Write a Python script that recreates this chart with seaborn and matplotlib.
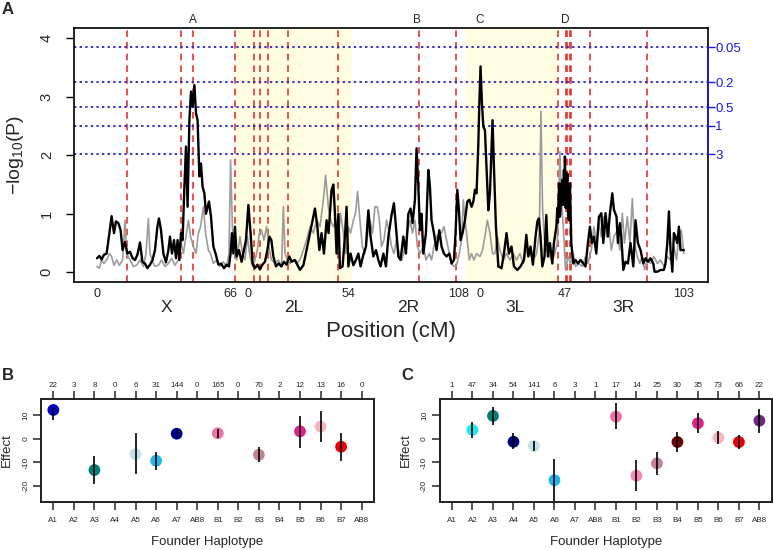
import matplotlib
matplotlib.use("Agg")
import matplotlib.pyplot as plt
import matplotlib.transforms as mtransforms
import numpy as np
import pandas as pd
import seaborn as sns

sns.set_style("ticks")
plt.rcParams['font.family'] = ['Liberation Sans', 'DejaVu Sans']
plt.rcParams['mathtext.fontset'] = 'custom'
plt.rcParams['mathtext.rm'] = 'Liberation Sans'
plt.rcParams['mathtext.it'] = 'Liberation Sans:italic'

# ---- panel A data (cumulative map position, -log10 P) ----
black_trace = [
    (0, .24), (1.2, .28), (2.3, .22), (3.5, .30), (4.8, .32), (6.2, .67), (7.3, .96), (8.5, .67),
    (9.5, .87), (10.7, .84), (11.8, .72), (12.8, .38), (14, .52), (15.2, .32), (16.5, .35),
    (17.8, .24), (19, .21), (20.2, .30), (21.5, .51), (22.7, .18), (24, .15), (25.2, .07),
    (26.5, .13), (27.8, .21), (29, .38), (30.2, .78), (31, .92), (32, .72), (33.2, .32),
    (34.5, .17), (35.7, .38), (36.5, .61), (37.5, .32), (38.5, .55), (39.5, .24), (40.3, .55),
    (41.2, .21), (42, .67), (42.8, .55), (43.7, 1.46), (44.5, 2.15), (45.3, 1.12), (46.2, 2.6),
    (47, 3.09), (47.8, 2.83), (48.7, 3.2), (49.5, 2.72), (50.3, 2.6), (51.2, 1.64), (52, 1.86),
    (52.8, 1.46), (53.7, 1.35), (54.5, 1.0), (56, 1.21), (57, .95), (58.2, .44), (59.3, .32),
    (60.7, .13), (62, .15), (63.5, .07), (64.8, .13), (66, .10), (66.8, .32), (67.5, .67),
    (68.2, .32), (69, .78), (69.8, .27), (71, .38), (72.3, .18), (73.5, .38), (74.5, .55),
    (75.7, 1.15), (76.8, .67), (77.8, .15), (79, .07), (80.2, .13), (81.5, .05), (82.7, .13),
    (84, .18), (85.2, .38), (86.2, .61), (87.2, .55), (88.2, .27), (89.5, .10), (90.8, .15),
    (92.2, .10), (93.5, .18), (94.8, .13), (96.2, .27), (97.3, .18), (99, .21), (100.2, .13),
    (101.5, .04), (103.2, .12), (104.8, .38), (106.5, .67), (109, 1.09), (110.2, .78),
    (111.2, .38), (112.3, .67), (113.5, .32), (114.8, .89), (115.8, .67), (117.3, 1.41),
    (118.2, 1.5), (119, 1.0), (119.8, .32), (120.7, 1.0), (121.5, .07), (122.8, .10),
    (124, .61), (124.8, 1.12), (125.7, .10), (126.8, .32), (128.2, .12), (129.5, .21),
    (130.7, .32), (131.8, .10), (133.2, .30), (134.5, .44), (135.7, 1.06), (136.8, .61),
    (138.2, .27), (139.5, .38), (140.7, .21), (141.8, .10), (143.2, .32), (144.5, .10),
    (145.7, .61), (147.3, .98), (148.5, 1.18), (149.5, .78), (150.7, .27), (151.8, .21),
    (153.2, .61), (154.5, .32), (155.7, 1.0), (156.8, 1.09), (157.8, .84), (159, 1.24),
    (159.8, 2.12), (160.7, 1.46), (161.5, .72), (162.3, 1.0), (163.2, .32), (164.5, .67),
    (165.7, 1.75), (166.5, 1.46), (167.3, .89), (168.5, .67), (169.8, .38), (171.2, .72),
    (172.3, .44), (173.5, .32), (174.8, .27), (176.2, .32), (177.3, .15), (178.5, .21),
    (179.3, .67), (180.2, 1.41), (181, 1.06), (181.8, .55), (182.8, .67), (184, .89),
    (185.2, 1.21), (186.2, 1.24), (187.3, 1.12), (188.2, 1.21), (189, 1.41), (189.8, 1.35),
    (190.7, 2.2), (191.2, 2.89), (191.8, 3.52), (192.5, 2.89), (193.2, 2.49), (194, 2.43),
    (194.8, 1.8), (195.7, 1.06), (196.5, 1.35), (197.3, 2.15), (197.8, 2.6), (198.5, 1.8),
    (199.5, .78), (200.7, .10), (202.3, .07), (203.5, .32), (204.8, .67), (206, .32),
    (207.3, .44), (208.5, .10), (210.2, .04), (211.8, .10), (213.5, .21), (214.7, .64),
    (215.7, .27), (216.8, .44), (218, .13), (219.3, .61), (220.2, .87), (221, .92),
    (221.8, .61), (222.7, .10), (223.8, .27), (224.7, .98), (225.5, .27), (226.5, .50),
    (227.7, .15), (228.5, .50), (229.7, .78), (230.2, 1.1), (230.5, .85), (230.9, 1.35),
    (231.2, 1.52), (231.5, .95), (231.8, 1.07), (232.2, 1.45), (232.7, 1.58), (233.1, 1.15),
    (233.5, 1.75), (233.8, 1.4), (234, 1.98), (234.4, 1.1), (234.7, 1.29), (235.2, 1.69),
    (235.6, 1.0), (236, .89), (236.5, 1.52), (237.2, .50), (238.2, .15), (239.3, .21),
    (240.5, .15), (241.8, .21), (243.2, .15), (244.3, .10), (245.5, .50), (246.5, .78),
    (247.5, .50), (248.5, .61), (249.7, .32), (251, .95), (252.2, 1.01), (253.2, .50),
    (254.3, 1.01), (255.5, .61), (256.5, 1.01), (257.7, 1.35), (258.5, 1.07), (259.8, .95),
    (260.5, .50), (261.5, .84), (262.2, .61), (263.2, .04), (264.3, .18), (265.5, .15),
    (266.8, .50), (268.2, .10), (269.3, .89), (270.5, .50), (271.8, .38), (273.2, .15),
    (274.3, .24), (275.5, .18), (276.8, .24), (278.2, .15), (278.8, .01), (280.2, .01),
    (281.8, .04), (283.5, .04), (284.3, .15), (285.2, .50), (286, 1.04), (286.8, .38),
    (287.7, .01), (288.5, .67), (289.3, .61), (290.2, .50), (291, .78), (291.8, .38),
    (292.7, .38), (293.5, .38),
]

gray_trace = [
    (0, .10), (1.2, .07), (2.3, .21), (3.5, .15), (4.8, .21), (6.2, .32), (7.3, .27), (8.5, .12),
    (9.8, .21), (11.2, .12), (12.8, .21), (14, .89), (14.8, .32), (16.5, .21), (18.2, .10),
    (19.8, .12), (21.5, .21), (23.2, .10), (24.5, .32), (25.7, .92), (26.5, .32), (27.8, .18),
    (29, .10), (30.7, .12), (32.3, .21), (34, .10), (35.7, .15), (37.3, .24), (39, .12),
    (40.7, .21), (41.8, .55), (43.2, .32), (44.5, .61), (45.7, .89), (46.8, .61), (48.2, .44),
    (49.5, .32), (50.7, .67), (51.8, .78), (53.2, 1.12), (54.3, .67), (55.7, .38), (56.8, .32),
    (58.2, .15), (59.8, .21), (61.5, .10), (63.2, .18), (64.8, .10), (66, .32), (66.8, 1.92),
    (67.7, .78), (68.5, .32), (69.8, .21), (71.5, .61), (72.8, .32), (74, .21), (75.2, .61),
    (76.5, .27), (77.8, .10), (79, .21), (80.2, .38), (81.2, .67), (82.3, .72), (83.5, .55),
    (84.8, .78), (86.2, .38), (87.3, .21), (89, .15), (90.7, .21), (92.3, .10), (93.2, 1.12),
    (94, .32), (95.2, .21), (96.5, .15), (98.2, .21), (99.8, .15), (101.5, .21), (103.2, .38),
    (104.8, .55), (106.5, .78), (108.2, .67), (109.8, .89), (111.5, .78), (113.2, 1.24),
    (114.3, 1.66), (115.7, 1.12), (116.8, .89), (118.2, .78), (119.5, .89), (120.7, .61),
    (121.8, 1.01), (123.2, .67), (124.5, .32), (125.7, .78), (126.8, .67), (128.2, .89),
    (129.3, 1.01), (130.3, 1.38), (131.5, .89), (132.7, .44), (134, .32), (135.2, .61),
    (136.5, .89), (137.8, .67), (139, 1.12), (140.2, 1.12), (141.2, .89), (142.3, .44),
    (143.5, .55), (144.8, .89), (146.2, .67), (147.3, .44), (148.5, .32), (149.8, .55),
    (151.2, .32), (152.5, .21), (154, .44), (155.2, .67), (156.5, .89), (157.8, .67),
    (159, .89), (160.2, .44), (161.5, .32), (163.2, .44), (164.5, .21), (166.2, .32),
    (167.3, .21), (168.5, .44), (169.8, .61), (171.2, .67), (172.3, .67), (173.5, .78),
    (174.8, .55), (176.2, .32), (177.3, .15), (178.5, .10), (179.8, .12), (181.2, .32),
    (182.3, .55), (183.2, 1.24), (184, .89), (184.8, .67), (186.2, .21), (187.3, .32),
    (188.5, .21), (189.8, .32), (191.5, .27), (192.8, .38), (194, .61), (195.2, .89),
    (196.5, .67), (197.8, .32), (199, .32), (200.2, .61), (201.5, .38), (203.2, .21),
    (204.8, .32), (206.5, .21), (208.2, .32), (209.8, .21), (211.5, .32), (213.2, .15),
    (214.8, .38), (216.5, .32), (218.2, .21), (219.8, .32), (221.2, .67), (222, 2.75),
    (222.8, 1.12), (224, .44), (225.7, .32), (227.2, .21), (228.5, .27), (230.2, .50),
    (231.5, 2.06), (232.3, 1.18), (233.2, .78), (234.3, .04), (235.5, .27), (236.8, .15),
    (238.2, .32), (239.3, .10), (241, .15), (242.7, .10), (244.3, .27), (245.5, .15),
    (247.2, .38), (248.5, .78), (249.8, .50), (251, .84), (252.2, .61), (253.5, .95),
    (254.8, .61), (256, .78), (257.2, .38), (258.5, .61), (260.2, .72), (261.5, .38),
    (262.7, 1.01), (263.8, .50), (265.2, .95), (266.5, .50), (267.7, 1.26), (268.8, .50),
    (270.2, .27), (271.5, .15), (272.7, .27), (273.8, .04), (275.2, .21), (276.8, .15),
    (278.5, .27), (280.2, .15), (281.8, .21), (283.5, .10), (285.2, .27), (286.8, .21),
    (288.5, .44), (289.8, .21), (291, .61), (292.2, .72), (293.5, .32),
]

tick_pos = [0, 66.5, 75.5, 125.7, 180.7, 191.5, 233.7, 293.2]
tick_lab = ['0', '66', '0', '54', '108', '0', '47', '103']
arm_pos = [34.8, 98.2, 155.7, 209, 263.2]
arm_lab = ['X', '2L', '2R', '3L', '3R']
shaded_arms = [(69.2, 127.7), (184.7, 229.8)]
marker_lines = [14.85, 42, 48, 69.2, 78.5, 81.7, 85.7, 95.5, 120.4, 161, 179.4,
                230.6, 234.3, 235.2, 236.3, 237.2, 246.5, 274.9]
qtl_pos = [48.2, 159.8, 191.5, 234]
qtl_lab = ['A', 'B', 'C', 'D']
thr_y = [3.846, 3.248, 2.82, 2.506, 2.017]
thr_lab = ['0.05', '0.2', '0.5', '1', '3']

# ---- panels B and C data ----
haplotypes = ['A1', 'A2', 'A3', 'A4', 'A5', 'A6', 'A7', 'AB8',
              'B1', 'B2', 'B3', 'B4', 'B5', 'B6', 'B7', 'AB8 ']
hap_colors = ['#0000CD', '#22E6F0', '#007F73', '#000080', '#C3E0E6', '#1FB6EA', '#00008B', '#6B2A7A',
              '#F070A8', '#F28BAE', '#C08590', '#6E0000', '#E0208C', '#F5B5C0', '#EE0000', '#6B2A7A']
nB = [22, 3, 8, 0, 6, 31, 144, 0, 165, 0, 70, 2, 12, 13, 16, 0]
effB = [12.1, np.nan, -13.2, np.nan, -6.5, -9.3, 2.1, np.nan, 2.3, np.nan, -6.8, np.nan, 3.1, 5.1, -3.4, np.nan]
loB = [7.8, np.nan, -19.2, np.nan, -14.9, -13.0, 0.6, np.nan, 0.4, np.nan, -9.7, np.nan, -3.8, -1.5, -9.3, np.nan]
hiB = [13.5, np.nan, -7.3, np.nan, 2.5, -5.5, 3.7, np.nan, 3.9, np.nan, -3.7, np.nan, 9.7, 11.7, 2.5, np.nan]
nC = [1, 47, 34, 54, 141, 6, 3, 1, 17, 14, 25, 30, 35, 73, 66, 22]
effC = [np.nan, 3.7, 9.6, -1.3, -3.1, -17.5, np.nan, np.nan, 9.3, -15.6, -10.4, -1.4, 6.5, 0.4, -1.4, 7.6]
loC = [np.nan, 0.1, 5.8, -4.5, -5.1, -27.5, np.nan, np.nan, 3.9, -22.0, -15.1, -5.5, 2.5, -2.4, -4.2, 2.5]
hiC = [np.nan, 7.2, 13.5, 2.3, -1.0, -8.7, np.nan, np.nan, 14.9, -9.0, -5.6, 3.0, 10.7, 3.2, 1.4, 12.7]

W, H = 774, 550
fig = plt.figure(figsize=(W / 100, H / 100), dpi=100)


def box(l, t, r, b):
    return [l / W, 1 - b / H, (r - l) / W, (b - t) / H]


# ================= Panel A =================
axA = fig.add_axes(box(74, 28, 707.7, 282))
for a, b in shaded_arms:
    axA.axvspan(a, b, color='#FFFDE2', lw=0, zorder=0)
for x in marker_lines:
    axA.axvline(x, color='#E8332E', ls=(0, (4, 3)), lw=1.2, zorder=1)
for y in thr_y:
    axA.axhline(y, color='#2525C8', ls=(0, (1.3, 1.8)), lw=1.3, zorder=1)

gray_df = pd.DataFrame(gray_trace, columns=['pos', 'logp'])
black_df = pd.DataFrame(black_trace, columns=['pos', 'logp'])
sns.lineplot(data=gray_df, x='pos', y='logp', sort=False, estimator=None,
             color='#9C9C9C', lw=1.2, ax=axA, zorder=2)
sns.lineplot(data=black_df, x='pos', y='logp', sort=False, estimator=None,
             color='black', lw=1.7, ax=axA, zorder=3)

axA.set_xlim(-11.5, 305.4)
axA.set_ylim(-0.166, 4.176)
axA.set_xlabel('')
axA.set_ylabel('')
axA.set_yticks([0, 1, 2, 3, 4])
axA.set_yticklabels(['0', '1', '2', '3', '4'], rotation=90, va='center', fontsize=10.5)
axA.tick_params(axis='y', length=5.5, width=1, pad=9, color='black')
axA.set_xticks(tick_pos)
axA.set_xticklabels(tick_lab, fontsize=9)
axA.tick_params(axis='x', length=0, pad=4)
for s in axA.spines.values():
    s.set_visible(True)
    s.set_linewidth(1.2)
    s.set_color('black')

trA = mtransforms.blended_transform_factory(axA.transData, axA.transAxes)
for x, lab in zip(arm_pos, arm_lab):
    axA.text(x, -0.1, lab, transform=trA, ha='center', va='center', fontsize=12.5)
for x, lab in zip(qtl_pos, qtl_lab):
    axA.text(x, 1.03, lab, transform=trA, ha='center', va='center', fontsize=8.5)

axR = axA.twinx()
axR.set_ylim(axA.get_ylim())
axR.set_yticks(thr_y)
axR.set_yticklabels(thr_lab, fontsize=9.5, color='#1A1AE0')
axR.tick_params(axis='y', length=5, width=1, color='#1A1AE0', pad=0.5)
for side in ['left', 'top', 'bottom']:
    axR.spines[side].set_visible(False)
axR.spines['right'].set_bounds(thr_y[-1], thr_y[0])
axR.spines['right'].set_color('#1A1AE0')
axR.spines['right'].set_linewidth(1.2)

fig.text(16 / W, 1 - 155 / H, r'$-\mathrm{log}_{10}\mathrm{(P)}$', rotation=90,
         ha='center', va='center', fontsize=14)
fig.text(391 / W, 1 - 331 / H, 'Position (cM)', ha='center', va='center', fontsize=16)
fig.text(7.5 / W, 1 - 10 / H, 'A', ha='center', va='center', fontsize=12, fontweight='bold')


# ================= Panels B and C =================
def effect_panel(rect, counts, eff, lo, hi, letter, letter_xy, ylabel_x, xlabel_x):
    ax = fig.add_axes(rect)
    xpos = np.arange(1, len(haplotypes) + 1)
    df = pd.DataFrame({'x': xpos, 'effect': eff, 'hap': haplotypes})
    df = df.dropna()
    pal = dict(zip(haplotypes, hap_colors))
    sns.scatterplot(data=df, x='x', y='effect', hue='hap', palette=pal, s=72,
                    edgecolor='none', legend=False, ax=ax, zorder=2)
    ax.vlines(xpos, lo, hi, color='black', lw=1.2, zorder=3)
    ax.set_xlim(0.4, 16.6)
    ax.set_ylim(-26.8, 16.6)
    ax.set_xlabel('')
    ax.set_ylabel('')
    ax.set_xticks(xpos)
    ax.set_xticklabels([h.strip() for h in haplotypes], fontsize=5.8)
    ax.set_yticks([-20, -10, 0, 10])
    ax.set_yticklabels(['-20', '-10', '0', '10'], rotation=90, va='center', fontsize=6)
    ax.tick_params(axis='x', length=5.5, width=1.1, pad=5)
    ax.tick_params(axis='y', length=5.5, width=1.1, pad=3)
    for s in ax.spines.values():
        s.set_visible(True)
        s.set_linewidth(1.2)
        s.set_color('black')
    top = ax.twiny()
    top.set_xlim(ax.get_xlim())
    top.set_xticks(xpos)
    top.set_xticklabels([str(c) for c in counts], fontsize=5.8)
    top.tick_params(axis='x', length=5.5, width=1.1, pad=2)
    for s in top.spines.values():
        s.set_linewidth(1.2)
    fig.text(ylabel_x / W, 1 - 450 / H, 'Effect', rotation=90, ha='center', va='center', fontsize=9.5)
    fig.text(xlabel_x / W, 1 - 541.7 / H, 'Founder Haplotype', ha='center', va='center', fontsize=9.5)
    fig.text(letter_xy[0] / W, 1 - letter_xy[1] / H, letter, ha='center', va='center',
             fontsize=12, fontweight='bold')
    return ax


effect_panel(box(41, 399.3, 374, 502.3), nB, effB, loB, hiB, 'B', (7.5, 376), 6.7, 206.7)
effect_panel(box(439.7, 399.3, 771.7, 502.3), nC, effC, loC, hiC, 'C', (407, 375.7), 405.7, 605.7)

fig.savefig('out.png', dpi=100)
